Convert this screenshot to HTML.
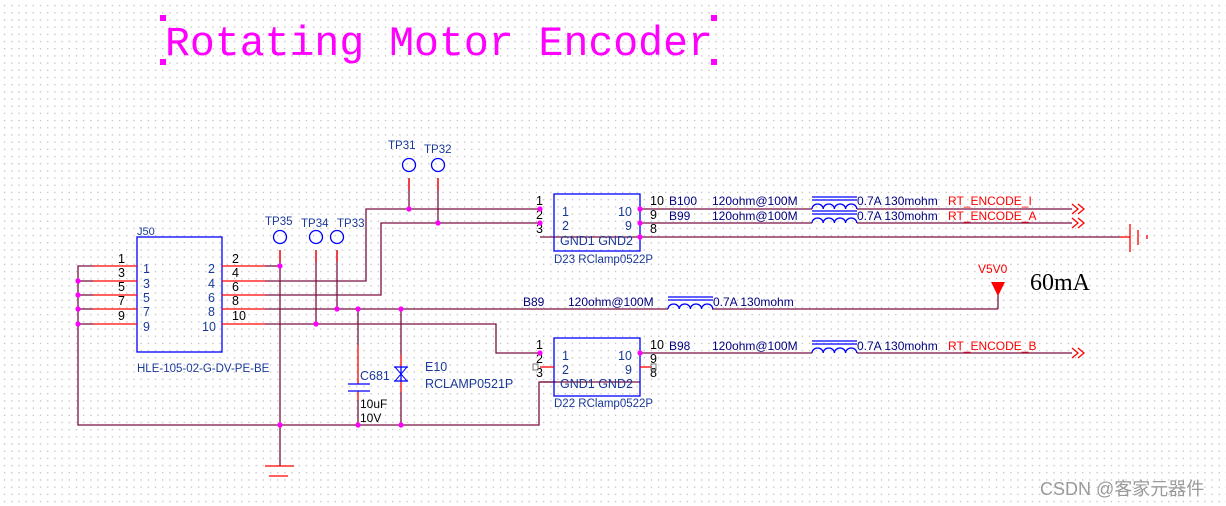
<!DOCTYPE html>
<html><head><meta charset="utf-8"><style>
html,body{margin:0;padding:0;}
body{width:1226px;height:506px;overflow:hidden;background-color:#fff;
background-image:radial-gradient(circle,#c4c4c4 0.6px,transparent 0.9px);background-size:7.2px 7.2px;background-position:1px 2px;}
svg{position:absolute;left:0;top:0;}
text{font-family:"Liberation Sans",sans-serif;}
.w{stroke:#7a1040;stroke-width:1.3;fill:none;}
.r{stroke:#ff0000;stroke-width:1.3;fill:none;}
.b{stroke:#0000ff;stroke-width:1.3;fill:none;}
.n{font-size:12.5px;fill:#000;}
.bl{font-size:12.5px;fill:#1a3a9a;}
.nv{font-size:12px;fill:#000080;}
.rd{font-size:12px;fill:#ff0000;}
.d{fill:#ff00ff;}
</style></head><body>
<svg width="1226" height="506" viewBox="0 0 1226 506">
<text x="165" y="55" style="font-family:'Liberation Mono',monospace;font-size:41.5px;fill:#ff00ff">Rotating Motor Encoder</text>
<rect x="160" y="15" width="6" height="6" class="d"/><rect x="711" y="15" width="6" height="6" class="d"/>
<rect x="160" y="59" width="6" height="6" class="d"/><rect x="711" y="59" width="6" height="6" class="d"/>

<rect x="137" y="237" width="85" height="115" class="b"/>
<text x="137" y="235" class="bl" style="font-size:11px">J50</text>
<text x="137" y="372" class="bl" style="font-size:11.5px">HLE-105-02-G-DV-PE-BE</text>
<g class="r">
<line x1="93" y1="266" x2="137" y2="266"/><line x1="93" y1="281" x2="137" y2="281"/><line x1="93" y1="295" x2="137" y2="295"/><line x1="93" y1="309" x2="137" y2="309"/><line x1="93" y1="324" x2="137" y2="324"/>
<line x1="222" y1="266" x2="265" y2="266"/><line x1="222" y1="281" x2="265" y2="281"/><line x1="222" y1="295" x2="265" y2="295"/><line x1="222" y1="309" x2="265" y2="309"/><line x1="222" y1="324" x2="265" y2="324"/>
</g>
<g class="n"><text x="118" y="263">1</text><text x="118" y="277">3</text><text x="118" y="291">5</text><text x="118" y="305">7</text><text x="118" y="320">9</text>
<text x="232" y="263">2</text><text x="232" y="277">4</text><text x="232" y="291">6</text><text x="232" y="305">8</text><text x="232" y="320">10</text></g>
<g class="bl"><text x="143" y="273">1</text><text x="143" y="288">3</text><text x="143" y="302">5</text><text x="143" y="316">7</text><text x="143" y="331">9</text>
<text x="208" y="273">2</text><text x="208" y="288">4</text><text x="208" y="302">6</text><text x="208" y="316">8</text><text x="202" y="331">10</text></g>

<g class="w">
<polyline points="93,266 78,266 78,425 539,425 539,382 556,382"/>
<line x1="78" y1="281" x2="93" y2="281"/><line x1="78" y1="295" x2="93" y2="295"/><line x1="78" y1="309" x2="93" y2="309"/><line x1="78" y1="324" x2="93" y2="324"/>
<polyline points="265,266 280,266"/>
<line x1="280" y1="250" x2="280" y2="466"/>
<polyline points="265,281 366,281 366,209 540,209"/>
<polyline points="265,295 381,295 381,223 540,223"/>
<line x1="265" y1="309" x2="668" y2="309"/>
<line x1="712" y1="309" x2="998" y2="309"/><line x1="998" y1="309" x2="998" y2="294"/>
<polyline points="265,324 496,324 496,353 540,353"/>
<line x1="316" y1="250" x2="316" y2="324"/><line x1="337" y1="250" x2="337" y2="309"/>
<line x1="409" y1="178" x2="409" y2="209"/><line x1="438" y1="178" x2="438" y2="223"/>
<line x1="540" y1="237" x2="1120" y2="237"/>
<line x1="640" y1="209" x2="812" y2="209"/><line x1="857" y1="209" x2="1072" y2="209"/>
<line x1="640" y1="223" x2="812" y2="223"/><line x1="857" y1="223" x2="1072" y2="223"/>
<line x1="640" y1="353" x2="812" y2="353"/><line x1="857" y1="353" x2="1072" y2="353"/>
<line x1="540" y1="382" x2="640" y2="382"/>
<line x1="358" y1="309" x2="358" y2="345"/><line x1="358" y1="400" x2="358" y2="425"/>
<line x1="401" y1="309" x2="401" y2="355"/><line x1="401" y1="392" x2="401" y2="425"/>
</g>
<g class="r"><line x1="280" y1="250" x2="280" y2="262"/><line x1="316" y1="250" x2="316" y2="262"/><line x1="337" y1="250" x2="337" y2="262"/>
<line x1="409" y1="178" x2="409" y2="190"/><line x1="438" y1="178" x2="438" y2="190"/>
<line x1="265" y1="466" x2="294" y2="466"/><line x1="269" y1="476" x2="288" y2="476"/>
<line x1="358" y1="345" x2="358" y2="384"/><line x1="358" y1="391" x2="358" y2="400"/>
<line x1="401" y1="355" x2="401" y2="367"/><line x1="401" y1="381" x2="401" y2="392"/>
<line x1="1120" y1="237" x2="1130" y2="237"/><line x1="1130" y1="224" x2="1130" y2="252"/><line x1="1138" y1="230" x2="1138" y2="245"/><line x1="1147" y1="235" x2="1147" y2="239"/>
<polyline points="1072,204 1078,209 1072,214"/><polyline points="1078,204 1084,209 1078,214"/>
<polyline points="1072,218 1078,223 1072,228"/><polyline points="1078,218 1084,223 1078,228"/>
<polyline points="1072,348 1078,353 1072,358"/><polyline points="1078,348 1084,353 1078,358"/>
</g>
<polygon points="991,282 1005,282 998,296" fill="#ff0000"/>
<text x="978" y="273" class="rd">V5V0</text>
<text x="1030" y="290" style="font-family:'Liberation Serif',serif;font-size:24px;fill:#000">60mA</text>

<g class="b"><circle cx="280" cy="237" r="6.5"/><circle cx="316" cy="237" r="6.5"/><circle cx="337" cy="237" r="6.5"/><circle cx="409" cy="165" r="6.5"/><circle cx="438" cy="165" r="6.5"/></g>
<g class="bl" style="font-size:11.5px"><text x="265" y="225">TP35</text><text x="301" y="227">TP34</text><text x="337" y="227">TP33</text><text x="388" y="149">TP31</text><text x="424" y="153">TP32</text></g>

<g stroke="#0000ff" stroke-width="1.3"><line x1="348" y1="384" x2="370" y2="384"/><line x1="348" y1="391" x2="370" y2="391"/>
<line x1="394" y1="367" x2="408" y2="367"/><line x1="394" y1="381" x2="408" y2="381"/><line x1="401" y1="367" x2="401" y2="381"/></g>
<polygon points="395,367 407,367 401,374" fill="none" stroke="#0000ff"/><polygon points="395,381 407,381 401,374" fill="none" stroke="#0000ff"/>
<g style="fill:#1a3a9a;font-size:12.5px"><text x="360" y="380">C681</text><text x="425" y="371">E10</text><text x="425" y="388">RCLAMP0521P</text></g>
<g class="n" style="font-size:12px"><text x="360" y="408">10uF</text><text x="360" y="422">10V</text></g>

<rect x="554" y="194" width="86" height="57" class="b"/>
<g class="n"><text x="536" y="205">1</text><text x="536" y="219">2</text><text x="536" y="233">3</text><text x="650" y="205">10</text><text x="650" y="219">9</text><text x="650" y="233">8</text></g>
<g class="bl"><text x="562" y="216">1</text><text x="562" y="230">2</text><text x="618" y="216">10</text><text x="625" y="230">9</text><text x="560" y="245">GND1 GND2</text></g>
<text x="554" y="263" class="bl" style="font-size:11.5px">D23  RClamp0522P</text>
<rect x="554" y="338" width="86" height="58" class="b"/>
<g class="n"><text x="536" y="349">1</text><text x="536" y="363">2</text><text x="536" y="377">3</text><text x="650" y="349">10</text><text x="650" y="363">9</text><text x="650" y="377">8</text></g>
<g class="bl"><text x="562" y="360">1</text><text x="562" y="374">2</text><text x="618" y="360">10</text><text x="625" y="374">9</text><text x="560" y="388">GND1 GND2</text></g>
<text x="554" y="407" class="bl" style="font-size:11.5px">D22  RClamp0522P</text>
<g class="r"><line x1="540" y1="367" x2="554" y2="367"/><line x1="640" y1="367" x2="652" y2="367"/></g>
<rect x="533" y="364" width="5" height="6" fill="none" stroke="#777"/><rect x="651" y="364" width="5" height="6" fill="none" stroke="#777"/>

<g id="fb">
<line x1="812" y1="197" x2="857" y2="197" class="b"/><line x1="812" y1="200" x2="857" y2="200" class="b"/>
<path d="M812,209 a5.6,5 0 0 1 11.2,0 a5.6,5 0 0 1 11.2,0 a5.6,5 0 0 1 11.2,0 a5.6,5 0 0 1 11.2,0" class="b"/>
</g>
<use href="#fb" y="14"/><use href="#fb" y="144"/><use href="#fb" x="-144" y="100"/>
<g class="nv"><text x="669" y="205">B100</text><text x="712" y="205">120ohm@100M</text><text x="857" y="205">0.7A 130mohm</text>
<text x="669" y="220">B99</text><text x="712" y="220">120ohm@100M</text><text x="857" y="220">0.7A 130mohm</text>
<text x="669" y="350">B98</text><text x="712" y="350">120ohm@100M</text><text x="857" y="350">0.7A 130mohm</text>
<text x="523" y="306">B89</text><text x="568" y="306">120ohm@100M</text><text x="713" y="306">0.7A 130mohm</text></g>
<g class="rd"><text x="948" y="205">RT_ENCODE_I</text><text x="948" y="220">RT_ENCODE_A</text><text x="948" y="350">RT_ENCODE_B</text></g>

<g class="d">
<circle cx="78" cy="281" r="2.6"/><circle cx="78" cy="295" r="2.6"/><circle cx="78" cy="309" r="2.6"/><circle cx="78" cy="324" r="2.6"/>
<circle cx="280" cy="266" r="2.6"/><circle cx="280" cy="425" r="2.6"/><circle cx="358" cy="425" r="2.6"/><circle cx="401" cy="425" r="2.6"/>
<circle cx="316" cy="324" r="2.6"/><circle cx="337" cy="309" r="2.6"/><circle cx="358" cy="309" r="2.6"/><circle cx="401" cy="309" r="2.6"/>
<circle cx="409" cy="209" r="2.6"/><circle cx="438" cy="223" r="2.6"/>
<circle cx="540" cy="209" r="2.6"/><circle cx="540" cy="223" r="2.6"/><circle cx="640" cy="209" r="2.6"/><circle cx="640" cy="223" r="2.6"/><circle cx="640" cy="237" r="2.6"/>
<circle cx="540" cy="353" r="2.6"/><circle cx="640" cy="353" r="2.6"/>
</g>
<text x="1040" y="495" style="font-family:'Liberation Sans','Noto Sans CJK SC',sans-serif;font-size:18px;fill:#9a9a9a">CSDN @客家元器件</text>
</svg>
</body></html>
